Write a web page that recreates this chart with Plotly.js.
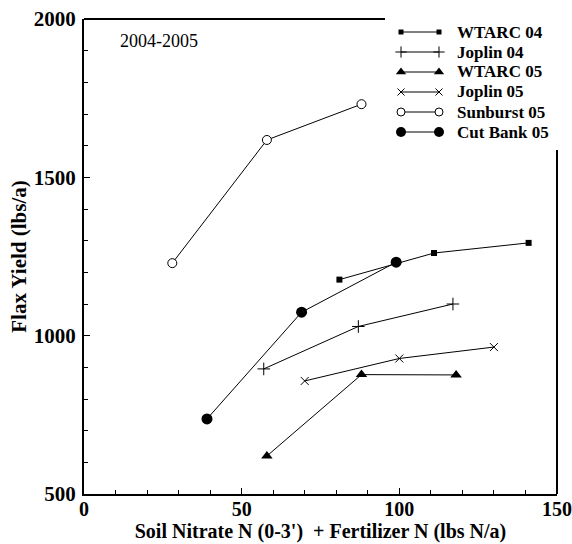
<!DOCTYPE html>
<html>
<head>
<meta charset="utf-8">
<script src="https://cdn.plot.ly/plotly-3.0.1.min.js"></script>
<style>html,body{margin:0;padding:0;background:#fff;}#chart{width:572px;height:544px;}</style>
</head>
<body>
<div id="chart"></div>
<script>
// ---- data ----
const seriesNames = ["WTARC 04", "Joplin 04", "WTARC 05", "Joplin 05", "Sunburst 05", "Cut Bank 05"];
const wtarc04X = [81, 111, 141];
const wtarc04Y = [1177, 1261, 1293];
const joplin04X = [57, 87, 117];
const joplin04Y = [895, 1029, 1100];
const wtarc05X = [58, 88, 118];
const wtarc05Y = [620, 877, 876];
const joplin05X = [70, 100, 130];
const joplin05Y = [857, 928, 964];
const sunburst05X = [28, 58, 88];
const sunburst05Y = [1229, 1618, 1731];
const cutbank05X = [39, 69, 99];
const cutbank05Y = [737, 1074, 1232];
const xRange = [0, 150];
const yRange = [500, 2000];
const xMajorStep = 50, xMinorStep = 10;
const yMajorStep = 500, yMinorStep = 100;

const serif = "Liberation Serif, Times New Roman, serif";
const styles = [
  {symbol: "square", size: 6, color: "#000", lineColor: "#000", lw: 0},
  {symbol: "cross-thin-open", size: 9, color: "#000", lineColor: "#000", lw: 1},
  {symbol: "triangle-up", size: 10, color: "#000", lineColor: "#000", lw: 0},
  {symbol: "x-thin-open", size: 8, color: "#000", lineColor: "#000", lw: 1},
  {symbol: "circle", size: 9, color: "#fff", lineColor: "#000", lw: 1},
  {symbol: "circle", size: 11, color: "#000", lineColor: "#000", lw: 0}
];
const xs = [wtarc04X, joplin04X, wtarc05X, joplin05X, sunburst05X, cutbank05X];
const ys = [wtarc04Y, joplin04Y, wtarc05Y, joplin05Y, sunburst05Y, cutbank05Y];

// plot area geometry (pixels)
const W = 572, H = 544, mL = 84, mR = 15, mT = 19, mB = 50;
const pw = W - mL - mR, ph = H - mT - mB;
// legend layout in pixel space, converted through the axis ranges
const pxToX = px => xRange[0] + (px - mL) / pw * (xRange[1] - xRange[0]);
const pyToY = py => yRange[1] - (py - mT) / ph * (yRange[1] - yRange[0]);
const pxToPaper = px => (px - mL) / pw;
const pyToPaper = py => (H - mB - py) / ph;

const traces = [];
for (let i = 0; i < seriesNames.length; i++) {
  const s = styles[i];
  traces.push({
    x: xs[i], y: ys[i], name: seriesNames[i], type: "scatter", mode: "lines+markers",
    line: {color: "#000", width: 1},
    marker: {symbol: s.symbol, size: s.size, color: s.color, line: {color: s.lineColor, width: s.lw}},
    showlegend: false, cliponaxis: false, hoverinfo: "skip"
  });
}

const legRowY = [32, 52, 72, 92, 112, 132];
const annotations = [];
for (let i = 0; i < seriesNames.length; i++) {
  const s = styles[i];
  traces.push({
    x: [pxToX(401), pxToX(439)], y: [pyToY(legRowY[i]), pyToY(legRowY[i])],
    type: "scatter", mode: "lines+markers", showlegend: false, hoverinfo: "skip",
    line: {color: "#000", width: 1},
    marker: {symbol: s.symbol, size: Math.max(s.size - 1, 5), color: s.color, line: {color: s.lineColor, width: s.lw}},
    cliponaxis: false
  });
  annotations.push({
    xref: "paper", yref: "paper", x: pxToPaper(455), y: pyToPaper(legRowY[i]), xanchor: "left", yanchor: "middle",
    text: "<b>" + seriesNames[i] + "</b>", showarrow: false,
    font: {family: serif, size: 17, color: "#000"}
  });
}
annotations.push({
  xref: "paper", yref: "paper", x: pxToPaper(118), y: pyToPaper(41), xanchor: "left", yanchor: "middle",
  text: "2004-2005", showarrow: false, font: {family: serif, size: 18, color: "#000"}
});

const layout = {
  width: W, height: H,
  margin: {l: mL, r: mR, t: mT, b: mB, pad: 0},
  paper_bgcolor: "#fff", plot_bgcolor: "#fff",
  showlegend: false,
  font: {family: serif, color: "#000"},
  xaxis: {
    range: xRange, showgrid: false, zeroline: false,
    showline: true, linecolor: "#000", linewidth: 2,
    tickmode: "linear", tick0: 0, dtick: xMajorStep,
    ticks: "inside", ticklen: 6, tickwidth: 1.5, tickcolor: "#000",
    minor: {tickmode: "linear", tick0: 0, dtick: xMinorStep, ticks: "inside", ticklen: 4, tickwidth: 1, tickcolor: "#000", showgrid: false},
    tickfont: {family: serif, size: 20, color: "#000", weight: 700},
    ticklabelstandoff: -4,
    ticklabeloverflow: "allow",
    title: {text: "<b>Soil Nitrate N (0-3')  + Fertilizer N (lbs N/a)</b>", font: {family: serif, size: 20, color: "#000"}, standoff: 5},
    fixedrange: true
  },
  yaxis: {
    range: yRange, showgrid: false, zeroline: false,
    showline: true, linecolor: "#000", linewidth: 2,
    tickmode: "linear", tick0: 500, dtick: yMajorStep,
    ticks: "inside", ticklen: 6, tickwidth: 1.5, tickcolor: "#000",
    minor: {tickmode: "linear", tick0: 500, dtick: yMinorStep, ticks: "inside", ticklen: 4, tickwidth: 1, tickcolor: "#000", showgrid: false},
    tickfont: {family: serif, size: 21, color: "#000", weight: 700},
    ticklabelstandoff: 2,
    title: {text: "<b>Flax Yield (lbs/a)</b>", font: {family: serif, size: 21, color: "#000"}, standoff: 1},
    fixedrange: true
  },
  shapes: [
    {type: "line", xref: "paper", yref: "paper", x0: 0, x1: pxToPaper(385), y0: 1, y1: 1, line: {color: "#000", width: 2}},
    {type: "line", xref: "paper", yref: "paper", x0: 1, x1: 1, y0: 0, y1: pyToPaper(150), line: {color: "#000", width: 2}}
  ],
  annotations: annotations
};

Plotly.newPlot("chart", traces, layout, {staticPlot: true, displayModeBar: false});
</script>
</body>
</html>
